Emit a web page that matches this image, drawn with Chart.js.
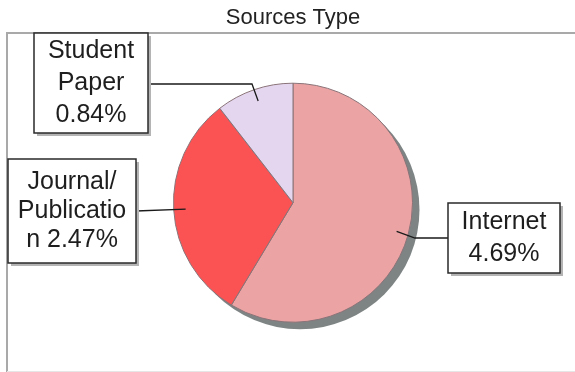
<!DOCTYPE html>
<html>
<head>
<meta charset="utf-8">
<script src="https://cdn.jsdelivr.net/npm/chart.js@4/dist/chart.umd.min.js"></script>
<style>
  html, body { margin: 0; padding: 0; background: #fff; }
  #wrap { width: 575px; height: 372px; }
</style>
</head>
<body>
<div id="wrap"><canvas id="pieChart" width="575" height="372"></canvas></div>
<script>
// chart data
const categories = ['Internet', 'Journal/Publication', 'Student Paper'];
const values = [4.69, 2.47, 0.84];
const labelLines = [['Internet', '4.69%'], ['Journal/', 'Publicatio', 'n 2.47%'], ['Student', 'Paper', '0.84%']];
const sliceColors = ['#eba3a3', '#fb5353', '#e4d6ef'];

const FONT = '"Liberation Sans", Arial, sans-serif';

// where the callout boxes sit (box rect, line y, elbow x)
const callouts = [
    { x: 448, y: 203, w: 112, h: 70, lineY: 238, elbowX: 415, side: 'left', lineH: 32 },
    { x: 8, y: 159, w: 128, h: 104, lineY: 211, elbowX: null, side: 'right', lineH: 29 },
    { x: 34, y: 33, w: 114, h: 100, lineY: 84, elbowX: 252, side: 'right', lineH: 32 }
];

const framePlugin = {
    id: 'frame',
    beforeDatasetsDraw(chart) {
        const ctx = chart.ctx;
        ctx.save();
        // plot frame (top and left edge only visible)
        ctx.strokeStyle = '#a9a9a9';
        ctx.lineWidth = 2;
        ctx.beginPath();
        ctx.moveTo(575, 33);
        ctx.lineTo(7, 33);
        ctx.lineTo(7, 372);
        ctx.stroke();
        ctx.strokeStyle = '#e6e6e6';
        ctx.lineWidth = 1;
        ctx.beginPath();
        ctx.moveTo(7, 371.5);
        ctx.lineTo(575, 371.5);
        ctx.stroke();

        // pie shadow
        const arc = chart.getDatasetMeta(0).data[0];
        ctx.fillStyle = '#7e8484';
        ctx.beginPath();
        ctx.arc(arc.x + 7, arc.y + 7, arc.outerRadius, 0, Math.PI * 2);
        ctx.fill();
        ctx.restore();
    },
    afterDatasetsDraw(chart) {
        const ctx = chart.ctx;
        const arcs = chart.getDatasetMeta(0).data;
        ctx.save();
        for (let i = 0; i < arcs.length; i++) {
            const a = arcs[i];
            const c = callouts[i];
            const mid = (a.startAngle + a.endAngle) / 2;
            const px = a.x + Math.cos(mid) * a.outerRadius * 0.9;
            const py = a.y + Math.sin(mid) * a.outerRadius * 0.9;

            // leader line
            const edgeX = c.side === 'right' ? c.x + c.w : c.x;
            ctx.strokeStyle = '#1a1a1a';
            ctx.lineWidth = 1.3;
            ctx.beginPath();
            ctx.moveTo(edgeX, c.lineY);
            if (c.elbowX !== null) ctx.lineTo(c.elbowX, c.lineY);
            ctx.lineTo(px, py);
            ctx.stroke();

            // box with shadow
            ctx.fillStyle = '#b4b4b4';
            ctx.fillRect(c.x + 3, c.y + 3, c.w, c.h);
            ctx.fillStyle = '#ffffff';
            ctx.fillRect(c.x, c.y, c.w, c.h);
            ctx.strokeStyle = '#2a2a2a';
            ctx.lineWidth = 1.5;
            ctx.strokeRect(c.x, c.y, c.w, c.h);

            // text
            const lines = labelLines[i];
            ctx.fillStyle = '#1e1e1e';
            ctx.font = '25px ' + FONT;
            ctx.textAlign = 'center';
            ctx.textBaseline = 'middle';
            const cx = c.x + c.w / 2;
            const cy = c.y + c.h / 2;
            const top = cy - (lines.length - 1) * c.lineH / 2;
            for (let j = 0; j < lines.length; j++) {
                ctx.fillText(lines[j], cx, top + j * c.lineH);
            }
        }
        ctx.restore();
    }
};

new Chart(document.getElementById('pieChart'), {
    type: 'pie',
    data: {
        labels: categories,
        datasets: [{
            data: values,
            backgroundColor: sliceColors,
            borderColor: '#8a7479',
            borderWidth: 1
        }]
    },
    options: {
        responsive: false,
        animation: false,
        layout: { padding: { left: 173, right: 162, top: 0, bottom: 49 } },
        plugins: {
            legend: { display: false },
            tooltip: { enabled: false },
            title: {
                display: true,
                text: 'Sources Type',
                color: '#222',
                font: { family: FONT, size: 22, weight: 'normal' },
                padding: { top: 5, bottom: 51 }
            }
        }
    },
    plugins: [framePlugin]
});
</script>
</body>
</html>
